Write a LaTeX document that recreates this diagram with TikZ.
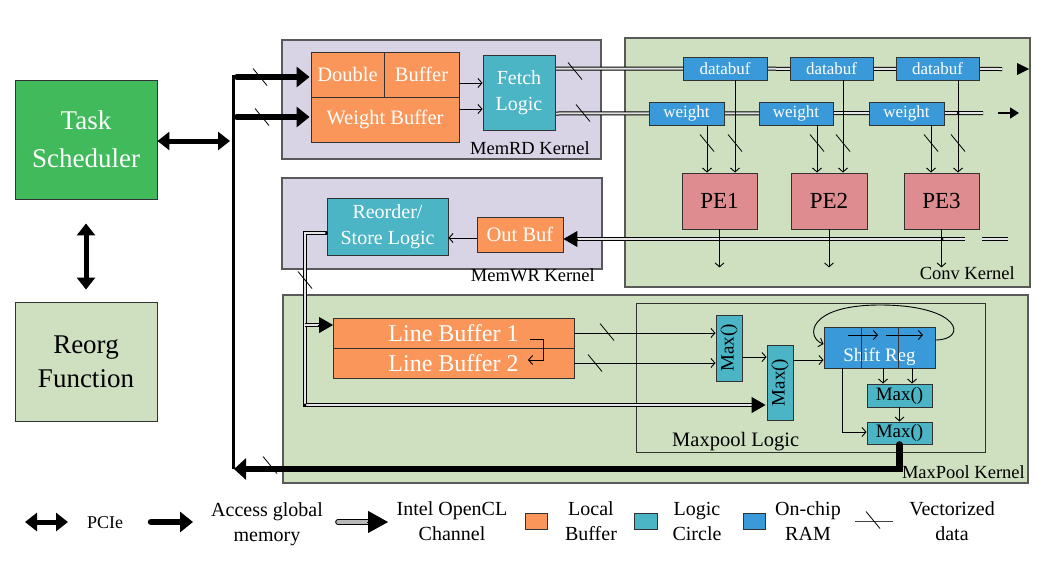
\documentclass[tikz,border=0pt]{standalone}
\usepackage{fontspec}
\setmainfont{Liberation Serif}
\usetikzlibrary{arrows.meta,calc}
\pgfdeclarelayer{back}\pgfdeclarelayer{mid}\pgfsetlayers{back,mid,main}
\definecolor{tsgreen}{RGB}{64,186,90}
\definecolor{lgreen}{RGB}{207,224,192}
\definecolor{lav}{RGB}{216,212,230}
\definecolor{lorange}{RGB}{250,150,90}
\definecolor{lteal}{RGB}{75,181,198}
\definecolor{lblue}{RGB}{58,154,217}
\definecolor{lpink}{RGB}{222,140,143}
\definecolor{bord}{RGB}{50,50,50}
\tikzset{
 box/.style={draw=bord, line width=0.9pt, inner sep=0pt, align=center},
 kern/.style={draw=black!65, line width=1.1pt, inner sep=0pt},
 buf/.style={box, fill=lorange, text=white, font=\fontsize{20.5}{25}\selectfont},
 logic/.style={box, fill=lteal, text=white, font=\fontsize{20}{26}\selectfont},
 ram/.style={box, fill=lblue, text=white, font=\fontsize{17}{20}\selectfont},
 pe/.style={box, fill=lpink, font=\fontsize{23}{28}\selectfont},
 maxb/.style={box, fill=lteal, font=\fontsize{19}{22}\selectfont},
 klabel/.style={font=\fontsize{18.5}{22}\selectfont, inner sep=0pt},
 tarrow/.style={line width=0.9pt, -{Straight Barb[length=4pt,width=9pt]}},
 chan/.style={draw=black, line width=1pt, double=gray!20, double distance=2pt},
 chanhead/.style={line width=1pt, -{Triangle[length=14pt,width=16pt]}},
 gm/.style={line width=6.5pt, line cap=round, -{Triangle[length=13pt,width=20pt]}},
 pcie/.style={line width=5pt, {Triangle[length=12pt,width=18pt]}-{Triangle[length=12pt,width=18pt]}},
 legtext/.style={font=\fontsize{20}{25}\selectfont, align=center, inner sep=0pt},
 vd/.pic={\draw[line width=0.8pt] (-7,-8.5) -- (7,8.5);},
}
\begin{document}
\begin{tikzpicture}[x=1pt,y=-1pt]
\useasboundingbox (0,0) rectangle (1043,568);
\begin{pgfonlayer}{back}
\fill[white] (0,0) rectangle (1043,568);
\node[kern, fill=lav, minimum width=319pt, minimum height=119pt] (memrd) at (441.5,99.5) {};
\node[kern, fill=lgreen, minimum width=405pt, minimum height=249pt] (conv) at (827.5,162.5) {};
\node[kern, fill=lav, minimum width=320pt, minimum height=91pt] (memwr) at (442,223.5) {};
\node[kern, fill=lgreen, minimum width=745pt, minimum height=188pt] (maxpool) at (655.5,389) {};
\node[draw=bord, line width=0.9pt, inner sep=0pt, minimum width=349pt, minimum height=149pt] (mplogic) at (810.5,377.5) {};
\end{pgfonlayer}

% left blocks
\node[box, fill=tsgreen, text=white, minimum width=142pt, minimum height=119pt, font=\fontsize{27}{38}\selectfont] (ts) at (86,139.5) {Task\\Scheduler};
\node[box, fill=lgreen, minimum width=142pt, minimum height=119pt, font=\fontsize{27}{34}\selectfont] (rf) at (86,361.5) {Reorg\\Function};

% MemRD
\node[buf, minimum width=73pt, minimum height=45pt] (db1) at (347.5,74.5) {Double};
\node[buf, minimum width=75pt, minimum height=45pt] (db2) at (421.5,74.5) {Buffer};
\node[buf, minimum width=148pt, minimum height=45pt] (wb) at (385,119.5) {Weight Buffer};
\node[logic, minimum width=72pt, minimum height=75pt] (fetch) at (519,92.5) {Fetch\\Logic};
\node[klabel, anchor=base east] (lmemrd) at (590,154) {MemRD Kernel};

% Conv
\node[ram, minimum width=84pt, minimum height=23pt] (dbf1) at (725,68.5) {databuf};
\node[ram, minimum width=83pt, minimum height=23pt] (dbf2) at (831.5,68.5) {databuf};
\node[ram, minimum width=83pt, minimum height=23pt] (dbf3) at (937.5,68.5) {databuf};
\node[ram, minimum width=75pt, minimum height=23pt] (w1) at (686.5,113.5) {weight};
\node[ram, minimum width=74pt, minimum height=23pt] (w2) at (796,113.5) {weight};
\node[ram, minimum width=75pt, minimum height=23pt] (w3) at (906.5,113.5) {weight};
\node[pe, minimum width=75pt, minimum height=56pt] (pe1) at (719.5,201) {PE1};
\node[pe, minimum width=76pt, minimum height=56pt] (pe2) at (829,201) {PE2};
\node[pe, minimum width=75pt, minimum height=56pt] (pe3) at (941.5,201) {PE3};
\node[klabel, anchor=base east] (lconv) at (1015,279) {Conv Kernel};

% MemWR
\node[logic, minimum width=121pt, minimum height=57pt] (reorder) at (387.5,226.5) {Reorder/\\Store Logic};
\node[buf, minimum width=86pt, minimum height=35pt] (outbuf) at (520,234.5) {Out Buf};
\node[klabel, anchor=base east] (lmemwr) at (595,281) {MemWR Kernel};

% MaxPool
\node[buf, font=\fontsize{24}{28}\selectfont, minimum width=241pt, minimum height=30pt] (lb1) at (453.5,333) {Line Buffer 1};
\node[buf, font=\fontsize{24}{28}\selectfont, minimum width=241pt, minimum height=30pt] (lb2) at (453.5,363) {Line Buffer 2};
\node[maxb, minimum width=26pt, minimum height=66pt] (max1) at (729,348) {};
\node[rotate=90, font=\fontsize{19}{22}\selectfont, inner sep=0pt] (tmax1) at (max1) {Max()};
\node[maxb, minimum width=26pt, minimum height=75pt] (max2) at (780,382.5) {};
\node[rotate=90, font=\fontsize{19}{22}\selectfont, inner sep=0pt] (tmax2) at (max2) {Max()};
\node[ram, minimum width=111pt, minimum height=41pt] (shift) at (879.5,347.5) {};
\node[text=white, font=\fontsize{19}{22}\selectfont, inner sep=0pt] (tshift) at (879.5,357) {Shift Reg};
\node[maxb, minimum width=65pt, minimum height=23pt] (max3) at (899.5,395.5) {Max()};
\node[maxb, minimum width=65pt, minimum height=22pt] (max4) at (899.5,433) {Max()};
\node[font=\fontsize{20.5}{24}\selectfont, inner sep=0pt, anchor=base west] (lmpl) at (672,446) {Maxpool Logic};
\node[klabel, anchor=base east] (lmaxpool) at (1025,478) {MaxPool Kernel};

% ---------- connectors ----------
\coordinate (bustop) at (233,75);
\coordinate (busb) at (233,469);
\coordinate (bus1) at (237,77);
\coordinate (bus2) at (237,117);
\coordinate (dbend) at (1002,69);
\coordinate (wend) at (983,113);
\coordinate (pech) at (965,239);
\coordinate (rc) at (305,233);
\coordinate (rcb) at (305,405);
\coordinate (lbin) at (333,325);

\begin{pgfonlayer}{mid}
\draw[chan] (fetch.east |- dbf1) -- (dbend);
\draw[chan] (fetch.east |- w1) -- (wend);
\draw[chan] (pech) -- ([xshift=13pt]outbuf.east |- pech);
\draw[chan] (982,239) -- (1008,239);
\draw[chan] (reorder.west |- rc) -- (rc) -- (rcb) -- ([xshift=-11pt]max2.west |- rcb);
\draw[chan] (rc |- lbin) -- ([xshift=-13pt]lbin);
\end{pgfonlayer}

\draw[chanhead] ([xshift=14pt]outbuf.east |- pech) -- (outbuf.east |- pech);
\draw[chanhead] ([xshift=-15pt]lbin) -- (lbin);
\draw[chanhead] ([xshift=-12pt]max2.west |- rcb) -- ([xshift=-1pt]max2.west |- rcb);
\fill (reorder.west |- rc) circle (1.6pt);
\fill (rcb) circle (1.6pt);
\fill (958,113) circle (1.5pt);
\fill (942,239) circle (1.5pt);

\fill (1017,63) -- (1029,69) -- (1017,75) -- cycle;
\draw[line width=1.5pt, -{Triangle[length=9pt,width=11pt]}] (998,113) -- (1019,113);

\draw[tarrow] (db2.east |- 0,83) -- (fetch.west |- 0,83);
\draw[tarrow] (wb.east |- 0,109) -- (fetch.west |- 0,109);

\draw[tarrow] (707,0 |- w1.south) -- (707,0 |- pe1.north);
\draw[tarrow] (735,0 |- dbf1.south) -- (735,0 |- pe1.north);
\draw[tarrow] (817,0 |- w2.south) -- (817,0 |- pe2.north);
\draw[tarrow] (843,0 |- dbf2.south) -- (843,0 |- pe2.north);
\draw[tarrow] (931,0 |- w3.south) -- (931,0 |- pe3.north);
\draw[tarrow] (958,0 |- dbf3.south) -- (958,0 |- pe3.north);
\draw[tarrow] (pe1.south) -- ++(0,38);
\draw[tarrow] (pe2.south) -- ++(0,38);
\draw[tarrow] (pe3.south) -- ++(0,38);

\draw[tarrow] (outbuf.west |- 0,238) -- (reorder.east |- 0,238);

\draw[tarrow] (530,339) -- (543,339) -- (543,360) -- (528,360);
\draw[tarrow] (lb1.east) -- (lb1.east -| max1.west);
\draw[tarrow] (lb2.east) -- (lb2.east -| max1.west);
\draw[tarrow] (max1.east |- 0,357) -- (max2.west |- 0,357);
\draw[tarrow] (max2.east |- 0,360) -- (shift.west |- 0,360);

\draw[line width=0.9pt, bord] (861,0 |- shift.north) -- (861,0 |- shift.south);
\draw[line width=0.9pt, bord] (898,0 |- shift.north) -- (898,0 |- shift.south);
\draw[tarrow] (848,335) -- (878,335);
\draw[tarrow] (886,335) -- (923,335);
\draw[tarrow] (shift.east |- 0,340) .. controls (968,340) and (962,305) .. (880,305) .. controls (806,305) and (806,338) .. (shift.west |- 0,344);
\draw[tarrow] (883,0 |- shift.south) -- (883,0 |- max3.north);
\draw[tarrow] (912,0 |- shift.south) -- (912,0 |- max3.north);
\draw[tarrow] (max3.south) -- (max4.north);
\draw[tarrow] (842,0 |- shift.south) -- (842,432) -- (max4.west |- 0,432);

\draw[line width=3pt] (bustop) -- (busb);
\draw[gm] (bus1) -- ([xshift=-1pt]bus1 -| db1.west);
\draw[gm] (bus2) -- ([xshift=-1pt]bus2 -| wb.west);
\draw[line width=6.5pt, line cap=round, -{Triangle[length=12pt,width=21pt]}] (max4.south) -- (max4.south |- busb) -- ([xshift=1pt]busb);

\draw[pcie] (ts.east |- 0,141) -- (230,141);
\draw[pcie] ([yshift=-24pt]ts.south) -- ([yshift=12pt]rf.north);

\pic at (260,77) {vd};
\pic at (262,117) {vd};
\pic at (575,71) {vd};
\pic at (583,113) {vd};
\pic at (707,143) {vd};
\pic at (735,143) {vd};
\pic at (817,143) {vd};
\pic at (843,143) {vd};
\pic at (931,143) {vd};
\pic at (958,143) {vd};
\pic at (305,280) {vd};
\pic at (607,332) {vd};
\pic at (595,363) {vd};
\pic at (270,465) {vd};

\coordinate (lg1a) at (25,522); \coordinate (lg1b) at (68,522);
\draw[pcie] (lg1a) -- (lg1b);
\node[legtext, font=\fontsize{18}{22}\selectfont] (tpcie) at (105,523) {PCIe};
\coordinate (lg2a) at (151,522); \coordinate (lg2b) at (193,522);
\draw[gm] (lg2a) -- (lg2b);
\node[legtext] (tgm) at (267,524) {Access global\\memory};
\coordinate (lg3a) at (338,522); \coordinate (lg3b) at (369,522); \coordinate (lg3c) at (388,522);
\draw[draw=black, line width=1.1pt, double=gray!55, double distance=3.5pt, line cap=round] (lg3a) -- (lg3b);
\draw[line width=1pt, -{Triangle[length=20pt,width=22pt]}] ([xshift=-21pt]lg3c) -- (lg3c);
\node[legtext] (tch) at (452,521) {Intel OpenCL\\Channel};
\node[box, fill=lorange, minimum width=22pt, minimum height=16pt] (sw1) at (536,521) {};
\node[legtext] (tlb) at (591,521) {Local\\Buffer};
\node[box, fill=lteal, minimum width=23pt, minimum height=16pt] (sw2) at (645.5,521) {};
\node[legtext] (tlc) at (697,521) {Logic\\Circle};
\node[box, fill=lblue, minimum width=22pt, minimum height=16pt] (sw3) at (754,521) {};
\node[legtext] (tram) at (808,521) {On-chip\\RAM};
\coordinate (lg4a) at (855,521); \coordinate (lg4b) at (893,521);
\draw[line width=1pt, black!75] (lg4a) -- (lg4b);
\pic at (873,520) {vd};
\node[legtext] (tvd) at (952,521) {Vectorized\\data};
\end{tikzpicture}
\end{document}
